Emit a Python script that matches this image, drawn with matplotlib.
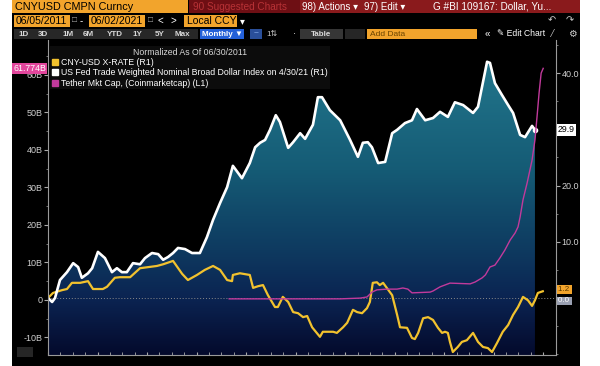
import numpy as np
import matplotlib.pyplot as plt
from matplotlib.colors import LinearSegmentedColormap
from matplotlib.patches import Rectangle, Polygon, Patch
from matplotlib.ticker import MultipleLocator

plt.rcParams['font.family'] = ['Liberation Sans', 'DejaVu Sans']

# x = months since 06/2011 (monthly chart)
# US Fed broad dollar index, normalized (R1)
usd_months = [0, 1.0, 1.7, 2.9, 4.6, 6.1, 7.3, 8.2, 9.7, 10.7, 12.1, 13.8, 15.5, 16.7, 17.9, 19.1,
              20.6, 22.3, 23.5, 25.2, 26.7, 27.9, 29.1, 30.3, 31.5, 33.2, 34.9, 36.8, 38.5, 40.0,
              41.7, 43.4, 44.8, 47.0, 48.9, 50.2, 51.4, 52.6, 53.8, 55.2, 56.2, 58.2, 59.4, 61.1,
              62.3, 64.2, 65.4, 66.4, 68.3, 70.8, 73.2, 75.1, 76.3, 77.5, 78.5, 80.0, 81.7, 83.4,
              84.6, 86.5, 88.2, 89.4, 91.4, 93.3, 95.0, 96.9, 98.6, 100.6, 103.0, 104.2, 106.4,
              107.1, 108.3, 110.0, 111.5, 112.7, 114.4, 115.6, 117.3, 118.0]
usd_vals = [0, -0.7, 0, 3.2, 4.6, 6.2, 5.5, 3.6, 4.4, 5.3, 8.2, 7.1, 4.6, 5.3, 4.6, 4.6,
            6.2, 6.0, 7.1, 8.0, 7.8, 6.8, 7.3, 8.0, 8.9, 8.7, 8.0, 8.0, 10.8, 13.9,
            16.9, 19.7, 23.5, 21.3, 24.0, 26.8, 27.6, 28.1, 29.9, 32.5, 31.3, 26.7, 27.7, 29.3,
            28.3, 30.8, 35.7, 35.7, 33.4, 31.6, 28.1, 25.1, 27.6, 27.7, 26.8, 24.0, 24.2, 29.3,
            29.9, 31.1, 31.6, 33.6, 31.6, 32.0, 33.1, 32.2, 34.8, 34.3, 32.9, 34.0, 42.0,
            41.8, 38.2, 36.1, 34.3, 32.9, 29.0, 28.6, 30.6, 29.9]

# CNY-USD x-rate, normalized (R1)
cny_months = [0.0, 1.2, 3.4, 4.6, 5.8, 7.8, 9.7, 10.9, 13.3, 14.3, 16.2, 17.4, 19.9, 22.3, 26.4,
              27.9, 30.3, 32.5, 33.9, 36.1, 38.0, 40.0, 41.7, 43.4, 44.6, 44.8, 46.5, 48.9, 49.7,
              50.9, 52.1, 53.3, 55.0, 55.7, 56.9, 58.2, 59.4, 60.6, 61.8, 62.8, 64.0, 65.9, 66.6,
              69.1, 70.0, 71.5, 72.5, 73.9, 74.9, 76.1, 77.3, 78.0, 78.7, 79.7, 80.4, 81.2, 82.1,
              83.4, 84.6, 85.3, 87.0, 88.2, 88.9, 89.7, 90.9, 92.1, 93.3, 94.5, 95.5, 96.2, 96.9,
              97.4, 98.1, 99.3, 100.3, 101.5, 103.0, 104.2, 105.4, 106.6, 107.6, 108.8, 110.2,
              111.5, 112.7, 113.9, 115.1, 116.3, 117.3, 118.0, 118.7, 119.9]
cny_vals = [0.0, 0.9, 1.4, 1.6, 2.7, 2.7, 3.0, 1.6, 1.6, 2.0, 3.6, 3.7, 3.7, 5.3, 5.7,
            6.0, 6.6, 4.3, 3.2, 4.1, 5.0, 5.7, 5.0, 3.2, 3.0, 4.1, 4.4, 4.1, 1.8,
            2.1, 2.3, 0.5, -1.6, -1.6, 0.2, -0.7, -2.5, -2.7, -3.4, -3.2, -5.2, -6.9, -6.0,
            -6.0, -6.2, -5.2, -4.4, -2.1, -2.5, -2.7, -1.8, -0.7, 2.7, 2.8, 2.3, 2.7, 1.8,
            0.5, -3.0, -5.2, -5.3, -7.1, -7.3, -6.2, -3.6, -3.4, -3.9, -5.3, -6.2, -6.0, -6.2,
            -7.8, -9.6, -8.7, -7.8, -7.5, -6.2, -7.8, -8.7, -8.9, -9.6, -8.0, -6.0,
            -4.8, -3.0, -1.6, 0.2, -0.4, -1.4, -0.4, 0.9, 1.2]

# Tether market cap, billions (L1)
tether_months = [43.9, 70.8, 75.6, 77.3, 78.5, 79.7, 82.1, 84.6, 86.0, 87.2, 88.2, 92.6, 93.3,
                 95.0, 97.4, 102.3, 103.5, 105.2, 106.0, 107.1, 108.3, 109.5, 110.7, 112.0,
                 113.2, 113.9, 114.4, 115.1, 116.1, 117.3, 118.0, 118.5, 119.0, 119.5, 120.0]
tether_vals = [0.3, 0.3, 0.5, 0.8, 2.1, 2.7, 2.9, 2.9, 3.2, 2.9, 1.9, 2.1, 2.4,
               3.5, 4.5, 4.3, 4.8, 5.9, 6.7, 8.8, 9.3, 11.2, 13.3, 16.0,
               17.9, 19.5, 22.1, 26.7, 31.2, 37.3, 42.7, 48.8, 55.2, 60.5, 61.774]

left_ticks = [-10, 0, 10, 20, 30, 40, 50, 60]
left_labels = ['-10B', '0', '10B', '20B', '30B', '40B', '50B', '60B']
right_ticks = [0, 10, 20, 30, 40]
right_labels = ['', '10.0', '20.0', '', '40.0']

W, H = 600, 366
fig = plt.figure(figsize=(W / 100, H / 100), dpi=100, facecolor='white')


def box(x0, y0, x1, y1, color):
    fig.add_artist(Rectangle((x0 / W, 1 - y1 / H), (x1 - x0) / W, (y1 - y0) / H,
                             transform=fig.transFigure, facecolor=color, edgecolor='none'))


def label(x, y, s, color, size, ha='left', **kw):
    fig.text(x / W, 1 - y / H, s, color=color, fontsize=size, ha=ha, va='center', **kw)


# terminal background + toolbar
box(12, 0, 580, 366, 'black')
box(12, 0, 188, 13, '#f2a42c')
label(15, 6.5, 'CNYUSD CMPN Curncy', 'black', 7.8)
box(189, 0, 300, 13, '#6e0f14')
label(193, 6.5, '90 Suggested Charts', '#b83236', 7.2)
box(300, 0, 580, 13, '#8a1a1c')
label(302, 6.5, '98) Actions \u25be', 'white', 7)
label(364, 6.5, '97) Edit \u25be', 'white', 7)
label(433, 6.5, 'G #BI 109167: Dollar, Yu...', 'white', 7.2)

box(14, 15, 70, 27, '#f2a42c')
label(16, 21, '06/05/2011', 'black', 7.5)
label(72, 21, '\u25a1', '#aaaaaa', 6)
label(80, 21, '-', 'white', 7)
box(89, 15, 145, 27, '#f2a42c')
label(91, 21, '06/02/2021', 'black', 7.5)
label(148, 21, '\u25a1', '#aaaaaa', 6)
label(158, 21, '<', 'white', 7)
label(171, 21, '>', 'white', 7)
box(184, 15, 237, 27, '#f2a42c')
label(187, 21, 'Local CCY', 'black', 7.5)
label(240, 21, '\u25be', 'white', 7)
label(548, 20, '\u21b6', '#cccccc', 7)
label(566, 20, '\u21b7', '#cccccc', 7)

box(14, 29, 198, 39, '#272727')
for name, cx in zip(['1D', '3D', '1M', '6M', 'YTD', '1Y', '5Y', 'Max'],
                    [24, 43, 68, 88, 115, 137, 160, 182]):
    label(cx, 34, name, '#d8d8d8', 5.8, ha='center', fontweight='bold')
box(200, 29, 244, 39, '#2360d8')
label(222, 34, 'Monthly \u25bc', 'white', 5.8, ha='center', fontweight='bold')
box(250, 29, 262, 39, '#2a4f9a')
label(256, 34, '~', '#9cc4ff', 6, ha='center')
label(266, 34, '1\u21c5', '#cccccc', 5.8)
label(293, 34, '\u00b7', 'white', 7)
box(300, 29, 343, 39, '#363636')
label(321, 34, 'Table', '#d8d8d8', 5.8, ha='center', fontweight='bold')
box(345, 29, 365, 39, '#262626')
box(367, 29, 477, 39, '#f2a42c')
label(370, 34, 'Add Data', '#6a4400', 6)
label(485, 34, '\u00ab', 'white', 7)
label(497, 34, '\u270e Edit Chart', 'white', 6.2)
label(552, 34, '\u2044', '#cccccc', 7)
label(568, 34, '\u2699', '#cccccc', 7)
box(17, 347, 33, 357, '#262626')

# axes: ax (L1, tether) drawn on top of ax2 (R1)
ax = fig.add_axes([48 / W, 1 - 355 / H, (556 - 48) / W, (355 - 40) / H])
ax2 = ax.twinx()
ax.set_zorder(2)
ax2.set_zorder(1)
ax.patch.set_visible(False)
ax2.set_facecolor('black')

xmax = 123.1
r_lo, r_hi = -10.13, 45.87
l_lo, l_hi = -14.67, 69.33

stops = [(-10.13, '#040a2c'), (0, '#0b2452'), (8.5, '#0e3a60'), (22.7, '#155b75'),
         (36, '#1e6e85'), (45.87, '#26798e')]
cmap = LinearSegmentedColormap.from_list(
    'bbg', [((v - r_lo) / (r_hi - r_lo), c) for v, c in stops])
grad = np.linspace(r_lo, r_hi, 256).reshape(-1, 1)
im = ax2.imshow(grad, extent=[0, xmax, r_lo, r_hi], origin='lower', aspect='auto',
                cmap=cmap, vmin=r_lo, vmax=r_hi, zorder=1)
verts = [(usd_months[0], r_lo)] + list(zip(usd_months, usd_vals)) + [(usd_months[-1], r_lo)]
poly = Polygon(verts, closed=True, facecolor='none', edgecolor='none', transform=ax2.transData)
ax2.add_patch(poly)
im.set_clip_path(poly)

ax2.axhline(0, color='#8a8a8a', lw=0.7, ls=(0, (1, 2)), zorder=2)
ax2.plot(usd_months, usd_vals, color='white', lw=1.9, zorder=4)
ax2.plot(usd_months[-1], usd_vals[-1], 'o', color='white', ms=3, zorder=5)
ax2.plot(cny_months, cny_vals, color='#f2c22e', lw=1.6, zorder=3)
ax.plot(tether_months, tether_vals, color='#c23a9c', lw=1.0)

ax.set_xlim(0, xmax)
ax.set_ylim(l_lo, l_hi)
ax2.set_ylim(r_lo, r_hi)

ax.set_yticks(left_ticks)
ax.set_yticklabels(left_labels)
ax.yaxis.set_minor_locator(MultipleLocator(5))
ax2.set_yticks(right_ticks)
ax2.set_yticklabels(right_labels)
ax2.yaxis.set_minor_locator(MultipleLocator(5))
ax.xaxis.set_major_locator(MultipleLocator(12))
ax.xaxis.set_minor_locator(MultipleLocator(3))

ax.tick_params(axis='y', which='major', colors='#aaaaaa', labelcolor='#d0d0d0',
               labelsize=6.5, length=3, width=0.8, pad=1)
ax.tick_params(axis='y', which='minor', colors='#888888', length=1.5)
ax2.tick_params(axis='y', which='major', colors='#aaaaaa', labelcolor='#d0d0d0',
                labelsize=6.5, length=3, width=0.8, pad=1)
ax2.tick_params(axis='y', which='minor', colors='#888888', length=1.5)
ax.tick_params(axis='x', which='both', labelbottom=False, colors='#aaaaaa',
               direction='in', length=2)

for s in ['top', 'right']:
    ax.spines[s].set_visible(False)
for s in ['top', 'left', 'bottom']:
    ax2.spines[s].set_visible(False)
ax.spines['left'].set_color('#9a9a9a')
ax.spines['bottom'].set_color('#9a9a9a')
ax2.spines['right'].set_color('#9a9a9a')

# last-value boxes
ax.text(-0.004, tether_vals[-1], '61.774B', transform=ax.get_yaxis_transform(),
        ha='right', va='center', fontsize=6.3, color='white', zorder=6, clip_on=False,
        bbox=dict(boxstyle='square,pad=0.15', fc='#e2469c', ec='none'))
ax2.text(1.004, usd_vals[-1], '29.9', transform=ax2.get_yaxis_transform(),
         ha='left', va='center', fontsize=6.3, color='black', zorder=6, clip_on=False,
         bbox=dict(boxstyle='square,pad=0.15', fc='white', ec='none'))
ax2.text(1.004, cny_vals[-1] + 0.3, '1.2 ', transform=ax2.get_yaxis_transform(),
         ha='left', va='center', fontsize=5.8, color='#5a3a00', zorder=6, clip_on=False,
         bbox=dict(boxstyle='square,pad=0.1', fc='#f2a42c', ec='none'))
ax2.text(1.004, -0.5, '0.0 ', transform=ax2.get_yaxis_transform(),
         ha='left', va='center', fontsize=5.8, color='white', zorder=6, clip_on=False,
         bbox=dict(boxstyle='square,pad=0.1', fc='#9aa0b2', ec='none'))

handles = [Patch(color='#f2c22e'), Patch(color='white'), Patch(color='#c23a9c')]
names = ['CNY-USD X-RATE (R1)',
         'US Fed Trade Weighted Nominal Broad Dollar Index on 4/30/21 (R1)',
         'Tether Mkt Cap, (Coinmarketcap) (L1)']
leg = ax.legend(handles, names, title='Normalized As Of 06/30/2011', loc='upper left',
                bbox_to_anchor=(2 / 508, 1 - 6 / 315), fontsize=6.3, title_fontsize=6.3,
                frameon=True, facecolor='#0c0c0c', edgecolor='none', framealpha=1,
                labelcolor='white', handlelength=0.7, handleheight=0.7, handletextpad=0.4,
                labelspacing=0.15, borderpad=0.2, borderaxespad=0, fancybox=False)
leg.get_title().set_color('#d8d8d8')
leg.set_zorder(10)

fig.savefig('out.png', dpi=100, facecolor=fig.get_facecolor())
